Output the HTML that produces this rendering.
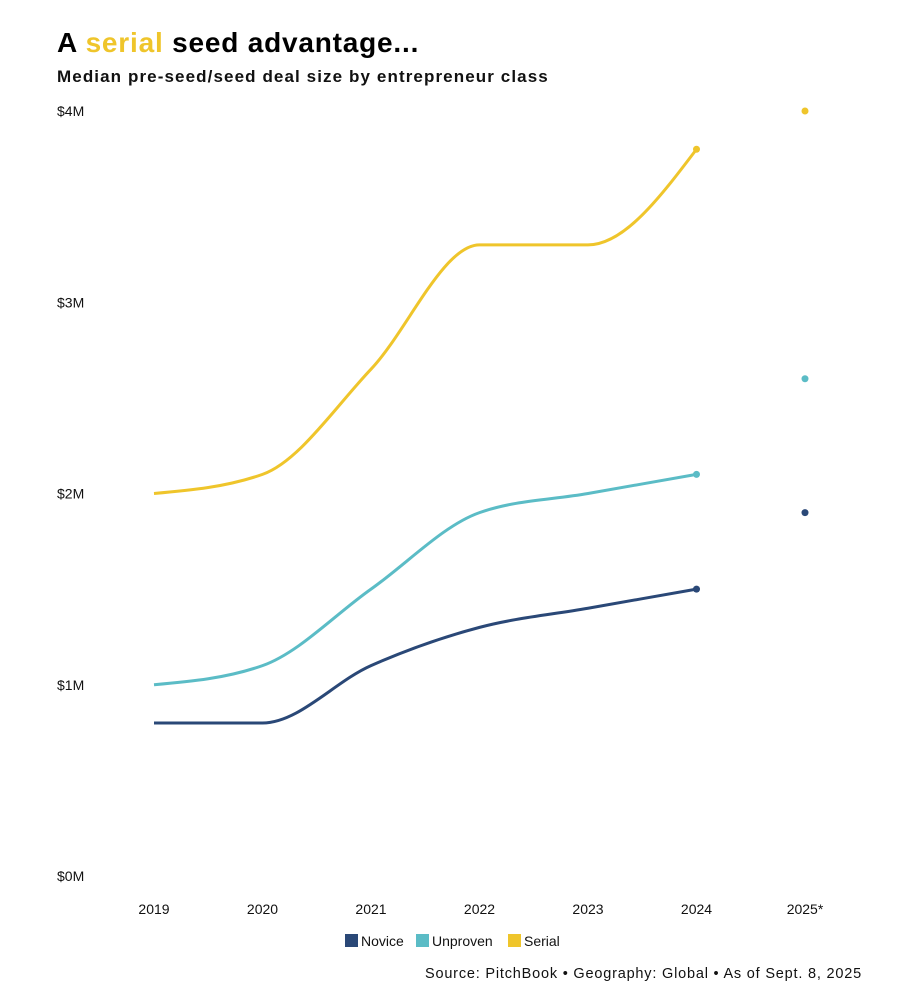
<!DOCTYPE html>
<html><head><meta charset="utf-8"><style>
body{margin:0;background:#fff;font-family:"Liberation Sans",sans-serif;}
#wrap{position:relative;width:905px;height:999px;overflow:hidden}
</style></head><body><div id="wrap">
<svg id="c" width="905" height="999">
<text x="57" y="52" font-size="28" font-weight="bold" letter-spacing="0.8" fill="#000">A <tspan fill="#efc52b">serial</tspan> seed advantage...</text>
<text x="57" y="82" font-size="17" font-weight="bold" letter-spacing="1.1" fill="#111">Median pre-seed/seed deal size by entrepreneur class</text>
<g id="yaxis"></g>
<g id="xaxis"></g>
<g id="series"></g>
<g id="legend"></g>
<text x="862" y="978" text-anchor="end" font-size="14.5" letter-spacing="0.8" fill="#111">Source: PitchBook • Geography: Global • As of Sept. 8, 2025</text>
</svg></div>
<script>
const years=["2019","2020","2021","2022","2023","2024","2025*"];
const novice=[0.8,0.8,1.1,1.3,1.4,1.5];
const unproven=[1.0,1.1,1.5,1.9,2.0,2.1];
const serial=[2.0,2.1,2.65,3.3,3.3,3.8];
const novice2025=1.9, unproven2025=2.6, serial2025=4.0;
const yTicks=[0,1,2,3,4];
const yTickLabels=["$0M","$1M","$2M","$3M","$4M"];
const seriesNames=["Novice","Unproven","Serial"];

const NS="http://www.w3.org/2000/svg";
const x=i=>154+i*108.5;
const y=v=>876-v*191.25;
function mk(t,a,p){const e=document.createElementNS(NS,t);for(const k in a)e.setAttribute(k,a[k]);p.appendChild(e);return e;}
const yA=document.getElementById('yaxis'),xA=document.getElementById('xaxis'),sG=document.getElementById('series'),lG=document.getElementById('legend');
yTicks.forEach((v,i)=>{const t=mk('text',{x:57,y:y(v)+5,'font-size':14,fill:'#111'},yA);t.textContent=yTickLabels[i];

});
years.forEach((yr,i)=>{const t=mk('text',{x:x(i),y:914,'font-size':14,fill:'#111','text-anchor':'middle'},xA);t.textContent=yr;

});
function monotonePath(pts){
  const n=pts.length,d=[],m=[];
  for(let i=0;i<n-1;i++)d.push((pts[i+1][1]-pts[i][1])/(pts[i+1][0]-pts[i][0]));
  for(let i=0;i<n;i++){
    if(i===0||i===n-1)continue;
    const s0=d[i-1],s1=d[i],h0=pts[i][0]-pts[i-1][0],h1=pts[i+1][0]-pts[i][0];
    const p=(s0*h1+s1*h0)/(h0+h1);
    m[i]=(Math.sign(s0)+Math.sign(s1))*Math.min(Math.abs(s0),Math.abs(s1),0.5*Math.abs(p))||0;
  }
  m[0]=(3*d[0]-m[1])/2;
  m[n-1]=(3*d[n-2]-m[n-2])/2;
  let s=`M${pts[0][0]},${pts[0][1]}`;
  for(let i=0;i<n-1;i++){const dx=(pts[i+1][0]-pts[i][0])/3;
    s+=`C${pts[i][0]+dx},${pts[i][1]+dx*m[i]} ${pts[i+1][0]-dx},${pts[i+1][1]-dx*m[i+1]} ${pts[i+1][0]},${pts[i+1][1]}`;}
  return s;
}
const defs=[[serial,serial2025,'#efc52b','serial'],[unproven,unproven2025,'#5bbcc6','unproven'],[novice,novice2025,'#2a4877','novice']];
defs.forEach(([vals,v25,col,nm])=>{
  const pts=vals.map((v,i)=>[x(i),y(v)]);
  const p=mk('path',{d:monotonePath(pts),fill:'none',stroke:col,'stroke-width':3},sG);
  
  
  const c=mk('circle',{cx:x(vals.length-1),cy:y(vals[vals.length-1]),r:3.5,fill:col},sG);
  
  
  const c2=mk('circle',{cx:x(6),cy:y(v25),r:3.5,fill:col},sG);
  
  
});
const lcol=['#2a4877','#5bbcc6','#efc52b'],lx=[345,416,508];
seriesNames.forEach((n,i)=>{
  const r=mk('rect',{x:lx[i],y:934,width:13,height:13,fill:lcol[i]},lG);
  
  
  const t=mk('text',{x:lx[i]+16,y:946,'font-size':14,fill:'#111'},lG);t.textContent=n;
  
  
});
</script></body></html>
